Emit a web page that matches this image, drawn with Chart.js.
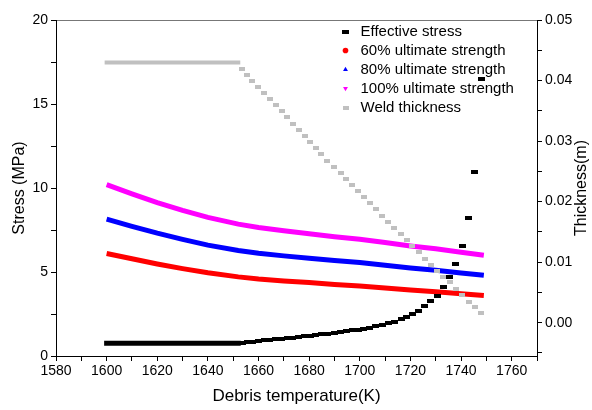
<!DOCTYPE html>
<html>
<head>
<meta charset="utf-8">
<script src="https://cdn.jsdelivr.net/npm/chart.js@4.4.0/dist/chart.umd.min.js"></script>
<style>
  html, body { margin: 0; padding: 0; background: #fff; }
  #wrap { width: 592px; height: 410px; }
</style>
</head>
<body>
<div id="wrap"><canvas id="chart1"></canvas></div>
<script>
// ultimate strength curves (MPa)
var strengthTemps = [1600, 1610, 1620, 1630, 1640, 1652, 1660, 1670, 1680, 1690, 1700, 1710, 1720, 1730, 1740, 1749];
var strength100 = [10.2, 9.65, 9.13, 8.67, 8.25, 7.85, 7.65, 7.45, 7.28, 7.1, 6.95, 6.75, 6.55, 6.38, 6.18, 6.0];
var strength80 = [8.15, 7.72, 7.31, 6.94, 6.6, 6.28, 6.12, 5.96, 5.82, 5.68, 5.56, 5.4, 5.24, 5.1, 4.94, 4.8];
var strength60 = [6.1, 5.79, 5.48, 5.2, 4.95, 4.71, 4.58, 4.47, 4.37, 4.26, 4.17, 4.05, 3.93, 3.82, 3.7, 3.6];

// before melting starts: stress and weld thickness stay flat
var flatTemps = [1600, 1652];
var flatStress = [0.76, 0.76];
var flatThickness = [0.043, 0.043];

// after 1652 K
var meltTemps = [
    1653.5, 1655.5, 1657.6, 1659.9, 1662.3, 1664.5, 1666.9, 1669.2, 1671.4, 1673.6, 1675.9, 1678.2, 1680.4, 1682.6,
    1684.8, 1687.1, 1690.0, 1692.4, 1694.6, 1697.0, 1699.4, 1701.6, 1703.9, 1706.3, 1708.8, 1711.3, 1713.7,
    1716.4, 1718.5, 1720.8, 1723.2, 1725.6, 1728.0, 1730.5, 1733.0, 1735.5, 1738.0, 1740.5, 1743.0, 1745.5, 1748.0
];
var effStress = [
    0.78, 0.81, 0.85, 0.89, 0.93, 0.96, 1.0, 1.03, 1.07, 1.1, 1.14, 1.17, 1.21, 1.25,
    1.29, 1.33, 1.38, 1.42, 1.47, 1.52, 1.57, 1.63, 1.69, 1.76, 1.84, 1.94, 2.05,
    2.18, 2.34, 2.5, 2.7, 2.98, 3.27, 3.59, 4.09, 4.68, 5.48, 6.57, 8.23, 10.97, 16.5
];
var weldThickness = [
    0.0419, 0.0409, 0.0400, 0.0389, 0.0379, 0.0370, 0.0359, 0.0349, 0.0339, 0.0328, 0.0318, 0.0308, 0.0299, 0.0288,
    0.0278, 0.0267, 0.0257, 0.0248, 0.0238, 0.0228, 0.0218, 0.0207, 0.0198, 0.0188, 0.0177, 0.0167, 0.0157,
    0.0147, 0.0137, 0.0127, 0.0117, 0.0106, 0.0096, 0.0086, 0.0076, 0.0067, 0.0056, 0.0046, 0.0035, 0.0026, 0.0016
];

var tempTicks = [1580, 1590, 1600, 1610, 1620, 1630, 1640, 1650, 1660, 1670, 1680, 1690, 1700, 1710, 1720, 1730, 1740, 1750, 1760, 1770];
var stressTicks = [0, 2.5, 5, 7.5, 10, 12.5, 15, 17.5, 20];
var thicknessTicks = [-0.005, 0, 0.005, 0.01, 0.015, 0.02, 0.025, 0.03, 0.035, 0.04, 0.045, 0.05];

var FONT = 'Arial, "Liberation Sans", sans-serif';
Chart.defaults.font.family = FONT;
Chart.defaults.color = '#000';

function pts(xs, ys) {
    return xs.map(function (x, i) { return { x: x, y: ys[i] }; });
}

function rectMarker(w, h, color) {
    var c = document.createElement('canvas');
    c.width = w;
    c.height = h;
    var g = c.getContext('2d');
    g.fillStyle = color;
    g.fillRect(0, 0, w, h);
    return c;
}

var blackMark = rectMarker(7, 4, '#000000');
var grayMark = rectMarker(6, 4, '#c0c0c0');

var legendInside = {
    id: 'legendInside',
    afterLayout: function (chart) {
        var lg = chart.legend, a = chart.chartArea;
        lg.left = a.right - 203;
        lg.right = lg.left + lg.width;
        lg.top = a.top;
        lg.bottom = a.bottom;
    }
};

// right axis title reads bottom-to-top like the left one
var rightTitle = {
    id: 'rightTitle',
    afterDraw: function (chart) {
        var s = chart.scales.y1, c = chart.ctx;
        c.save();
        c.translate(s.right - 10, (s.top + s.bottom) / 2);
        c.rotate(-Math.PI / 2);
        c.font = '16px ' + FONT;
        c.fillStyle = '#000';
        c.textAlign = 'center';
        c.textBaseline = 'middle';
        c.fillText('Thickness(m)', 0, 0);
        c.restore();
    }
};

var ctx1 = document.getElementById('chart1').getContext('2d');
var chart1 = new Chart(ctx1, {
    type: 'scatter',
    data: {
        datasets: [{
            label: 'Effective stress',
            data: pts(meltTemps, effStress),
            yAxisID: 'y',
            pointStyle: blackMark,
            backgroundColor: '#000000',
            borderColor: '#000000',
            pointBorderWidth: 0,
            order: 0
        }, {
            label: '60% ultimate strength',
            data: pts(strengthTemps, strength60),
            yAxisID: 'y',
            showLine: true,
            borderColor: '#ff0000',
            backgroundColor: '#ff0000',
            borderWidth: 5,
            pointRadius: 0,
            pointBorderWidth: 0,
            pointStyle: 'circle',
            order: 3
        }, {
            label: '80% ultimate strength',
            data: pts(strengthTemps, strength80),
            yAxisID: 'y',
            showLine: true,
            borderColor: '#0000ff',
            backgroundColor: '#0000ff',
            borderWidth: 5,
            pointRadius: 0,
            pointBorderWidth: 0,
            pointStyle: 'triangle',
            order: 3
        }, {
            label: '100% ultimate strength',
            data: pts(strengthTemps, strength100),
            yAxisID: 'y',
            showLine: true,
            borderColor: '#ff00ff',
            backgroundColor: '#ff00ff',
            borderWidth: 5,
            pointRadius: 0,
            pointBorderWidth: 0,
            pointStyle: 'triangle',
            pointRotation: 180,
            order: 3
        }, {
            label: 'Weld thickness',
            data: pts(meltTemps, weldThickness),
            yAxisID: 'y1',
            pointStyle: grayMark,
            backgroundColor: '#c0c0c0',
            borderColor: '#c0c0c0',
            pointBorderWidth: 0,
            order: 1
        }, {
            data: pts(flatTemps, flatStress),
            yAxisID: 'y',
            showLine: true,
            borderColor: '#000000',
            borderWidth: 5,
            borderCapStyle: 'square',
            pointRadius: 0,
            order: 0
        }, {
            data: pts(flatTemps, flatThickness),
            yAxisID: 'y1',
            showLine: true,
            borderColor: '#c0c0c0',
            borderWidth: 4,
            borderCapStyle: 'square',
            pointRadius: 0,
            order: 1
        }]
    },
    options: {
        responsive: true,
        maintainAspectRatio: false,
        animation: false,
        layout: { padding: { top: 20, left: 0, right: 0, bottom: 0 } },
        plugins: {
            tooltip: { enabled: false },
            legend: {
                position: 'chartArea',
                align: 'start',
                labels: {
                    usePointStyle: true,
                    boxWidth: 15,
                    boxHeight: 4,
                    padding: 4,
                    color: '#000',
                    font: { size: 15 },
                    filter: function (item) { return !!item.text; },
                    sort: function (a, b) { return a.datasetIndex - b.datasetIndex; }
                }
            }
        },
        scales: {
            x: {
                type: 'linear',
                position: 'bottom',
                min: 1580,
                max: 1770,
                afterBuildTicks: function (s) { s.ticks = tempTicks.map(function (v) { return { value: v }; }); },
                afterFit: function (s) { s.height = 54; },
                ticks: {
                    autoSkip: false,
                    maxRotation: 0,
                    padding: 2,
                    font: { size: 14 },
                    callback: function (v) { return v % 20 === 0 ? String(v) : ''; }
                },
                grid: { drawOnChartArea: false, tickLength: 5, tickColor: '#000' },
                border: { color: '#000' },
                title: { display: true, text: 'Debris temperature(K)', font: { size: 17 }, padding: { top: 0, bottom: 3 } }
            },
            x2: {
                type: 'linear',
                position: 'top',
                afterFit: function (s) { s.height = 0; },
                ticks: { display: false },
                grid: { display: false, drawTicks: false },
                border: { display: true, color: '#777' }
            },
            y: {
                type: 'linear',
                position: 'left',
                min: 0,
                max: 20,
                afterBuildTicks: function (s) { s.ticks = stressTicks.map(function (v) { return { value: v }; }); },
                afterFit: function (s) { s.width = 56; },
                ticks: {
                    autoSkip: false,
                    padding: 3,
                    font: { size: 14 },
                    callback: function (v) { return v % 5 === 0 ? String(v) : ''; }
                },
                grid: { drawOnChartArea: false, tickLength: 5, tickColor: '#000' },
                border: { color: '#000' },
                title: { display: true, text: 'Stress (MPa)', font: { size: 16 }, padding: { top: 10, bottom: 0 } }
            },
            y1: {
                type: 'linear',
                position: 'right',
                min: -0.0055,
                max: 0.05,
                afterBuildTicks: function (s) { s.ticks = thicknessTicks.map(function (v) { return { value: v }; }); },
                afterFit: function (s) { s.width = 55; },
                ticks: {
                    autoSkip: false,
                    padding: 3,
                    font: { size: 14 },
                    callback: function (v) {
                        var k = v * 100;
                        return Math.abs(k - Math.round(k)) < 1e-6 ? v.toFixed(2) : '';
                    }
                },
                grid: { drawOnChartArea: false, tickLength: 5, tickColor: '#000' },
                border: { color: '#000' }
            }
        }
    },
    plugins: [legendInside, rightTitle]
});
</script>
</body>
</html>
